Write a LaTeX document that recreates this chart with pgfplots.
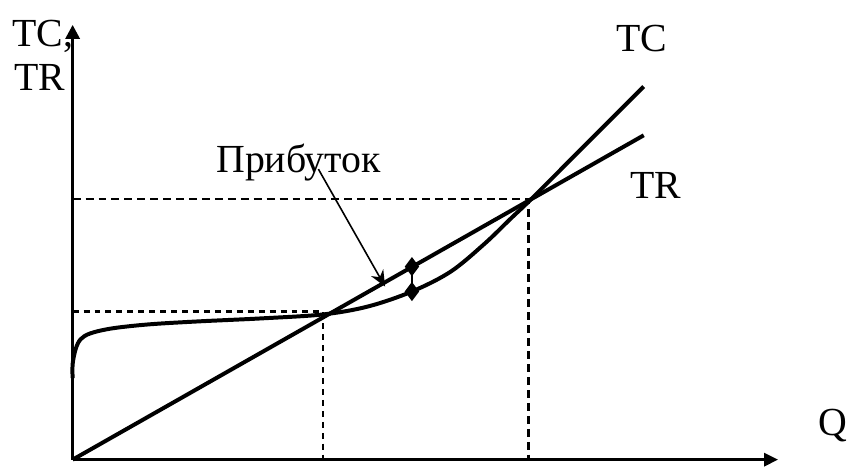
\documentclass[border=0pt]{standalone}
\usepackage{fontspec}
\setmainfont{Liberation Serif}
\usepackage{pgfplots}
\pgfplotsset{compat=1.18}
\usetikzlibrary{arrows.meta}

\tikzset{lbl/.style={font=\fontsize{20}{24}\selectfont, inner sep=0pt, anchor=base west}}

\begin{document}
\begin{tikzpicture}
\begin{axis}[x=0.5pt, y=0.5pt, xmin=0, xmax=709, ymin=0, ymax=437,
  axis lines=left, ticks=none, clip=false,
  axis line style={line width=1.5pt},
  x axis line style={-{Triangle[length=7pt,width=6.5pt]}},
  y axis line style={-{Triangle[length=7pt,width=7pt]}}]
  % bounding box in pixel units of the reference
  \path (axis cs:-73,-2) rectangle (axis cs:774,462);

  % guide lines
  \addplot[black, line width=1.1pt, dash pattern=on 3pt off 2.5pt] coordinates {(0,149) (252,149) (252,0)};
  \addplot[black, line width=1.4pt, dash pattern=on 4pt off 2.5pt] coordinates {(0,262) (458,262) (458,0)};

  % TR
  \addplot[black, line width=2pt] coordinates {(0,0) (574,326)};
  % TC
  \addplot[black, line width=2pt, smooth, tension=0.55] coordinates {
    (0,82) (0,96) (3,111) (8,121) (18,127) (40,132) (77,136) (127,139)
    (190,142) (252,146) (297,154) (341,169) (380,189) (414,217) (440,242)
    (460,261) (500,301) (574,375)};

  % profit gap
  \addplot[black, line width=1pt, mark=diamond*, mark size=4pt] coordinates {(341,194) (341,169)};
  \draw[line width=0.8pt, -{Stealth[length=8pt,width=7pt]}] (axis cs:247,292) -- (axis cs:314,174);

  \node[lbl] at (axis cs:-61,415) {TC,};
  \node[lbl] at (axis cs:-59,371) {TR};
  \node[lbl] at (axis cs:546,410) {TC};
  \node[lbl] at (axis cs:560,262) {TR};
  \node[lbl] at (axis cs:749,24) {Q};
  \node[lbl] at (axis cs:144,289) {Прибуток};
\end{axis}
\end{tikzpicture}
\end{document}
